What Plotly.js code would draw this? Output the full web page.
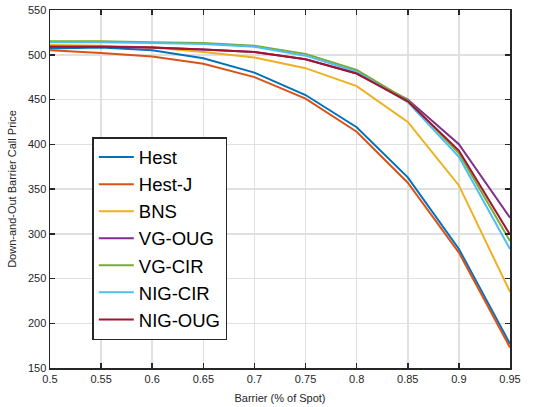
<!DOCTYPE html>
<html><head><meta charset="utf-8">
<script src="https://cdn.plot.ly/plotly-3.0.1.min.js"></script>
<style>body{margin:0;background:#fff}#g{width:547px;height:407px}</style>
</head><body><div id="g"></div>
<script>
const barrier = [0.5, 0.55, 0.6, 0.65, 0.7, 0.75, 0.8, 0.85, 0.9, 0.95];
const hest    = [507, 508, 505, 496, 480, 455, 419, 363, 283, 177];
const hestJ   = [505, 502, 498, 490, 475, 451, 414, 357, 279, 173];
const bns     = [511, 510, 508, 503, 497, 485, 465, 425, 354, 235];
const vgOug   = [509, 509, 508, 506, 503, 495, 479, 450, 400, 318];
const vgCir   = [515, 515, 514, 513, 510, 501, 483, 449, 390, 292];
const nigCir  = [514, 514, 513, 512, 509, 499, 481, 447, 386, 283];
const nigOug  = [509, 509, 508, 506, 503, 495, 479, 448, 393, 299];
const names   = ['Hest','Hest-J','BNS','VG-OUG','VG-CIR','NIG-CIR','NIG-OUG'];
const series  = [hest, hestJ, bns, vgOug, vgCir, nigCir, nigOug];
const colors  = ['#0072BD','#D95319','#EDB120','#7E2F8E','#77AC30','#4DBEEE','#A2142F'];
const xTicks  = [0.5,0.55,0.6,0.65,0.7,0.75,0.8,0.85,0.9,0.95];
const xTickText = ['0.5','0.55','0.6','0.65','0.7','0.75','0.8','0.85','0.9','0.95'];
const yTicks  = [150,200,250,300,350,400,450,500,550];

const traces = series.map((s,i)=>({
  x: barrier, y: s, name: names[i], type:'scatter', mode:'lines',
  line:{color:colors[i], width:2}
}));
const axisCommon = {
  showline:true, mirror:'ticks', linecolor:'#262626', linewidth:1.5,
  ticks:'inside', ticklen:5, tickcolor:'#262626', tickwidth:1.5,
  showgrid:true, gridcolor:'#e0e0e0', gridwidth:1.5, zeroline:false,
  tickfont:{family:'Liberation Sans, Arial, sans-serif', size:11, color:'#262626'}
};
const layout = {
  width:547, height:407,
  margin:{l:50, r:37, t:10, b:39},
  paper_bgcolor:'#fff', plot_bgcolor:'#fff',
  showlegend:true,
  xaxis: Object.assign({}, axisCommon, {
    range:[0.5,0.95], tickvals:xTicks, ticktext:xTickText,
    title:{text:'Barrier (% of Spot)', standoff:10, font:{family:'Liberation Sans, Arial, sans-serif', size:11, color:'#262626'}}
  }),
  yaxis: Object.assign({}, axisCommon, {
    range:[150,550], tickvals:yTicks,
    title:{text:'Down-and-Out Barrier Call Price', standoff:9, font:{family:'Liberation Sans, Arial, sans-serif', size:11, color:'#262626'}}
  }),
  legend:{
    x:0.092, y:0.645, xanchor:'left', yanchor:'top',
    bgcolor:'#fff', bordercolor:'#262626', borderwidth:1.5,
    font:{family:'Liberation Sans, Arial, sans-serif', size:18.5, color:'#000'},
    itemwidth:35
  }
};
Plotly.newPlot('g', traces, layout, {displayModeBar:false, staticPlot:true});
</script></body></html>
